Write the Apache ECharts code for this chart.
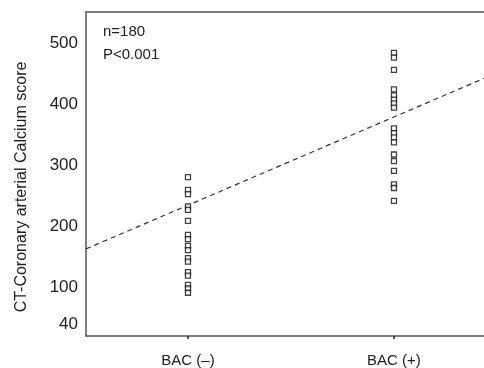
<!DOCTYPE html>
<html>
<head>
<meta charset="utf-8">
<script src="https://cdn.jsdelivr.net/npm/echarts@6/dist/echarts.min.js"></script>
<style>
html, body { margin: 0; padding: 0; background: #fff; }
#chart { width: 484px; height: 368px; }
</style>
</head>
<body>
<div id="chart"></div>
<script>
var groups = ['BAC (–)', 'BAC (+)'];
var yTicks = [40, 100, 200, 300, 400, 500];
// calcium scores
var bacNeg = [281, 260, 253, 233, 227, 209, 186, 179, 168, 161, 148, 142, 125, 119, 104, 98, 91];
var bacPos = [485, 477, 457, 425, 415, 408, 402, 395, 361, 353, 346, 338, 318, 307, 291, 269, 263, 242];
// dashed fit line, ends at the plot edges
var fitX = [0.505, 2.437];
var fitY = [163, 443];

var myChart = echarts.init(document.getElementById('chart'));

var negData = [];
for (var i = 0; i < bacNeg.length; i++) negData.push([1, bacNeg[i]]);
var posData = [];
for (var j = 0; j < bacPos.length; j++) posData.push([2, bacPos[j]]);
var fitData = [];
for (var k = 0; k < fitX.length; k++) fitData.push([fitX[k], fitY[k]]);

var axisColor = '#555';
var textColor = '#222';
var font = 'Liberation Sans, Arial, sans-serif';

var option = {
    animation: false,
    grid: { left: 86, right: 0, top: 12, bottom: 30 },
    xAxis: [
        {
            type: 'value',
            min: fitX[0],
            max: fitX[1],
            axisLine: { show: true, lineStyle: { color: axisColor, width: 1.5 } },
            axisTick: { show: true, length: 3, customValues: [1, 2], lineStyle: { color: '#222', width: 1.5 } },
            splitLine: { show: false },
            axisLabel: {
                customValues: [1, 2],
                margin: 17,
                color: textColor,
                fontSize: 15,
                fontFamily: font,
                formatter: function (v) { return groups[Math.round(v) - 1]; }
            }
        },
        {
            type: 'value',
            position: 'top',
            min: fitX[0],
            max: fitX[1],
            axisLine: { show: true, onZero: false, lineStyle: { color: axisColor, width: 1.5 } },
            axisTick: { show: false },
            axisLabel: { show: false },
            splitLine: { show: false }
        }
    ],
    yAxis: {
        type: 'value',
        min: 20,
        max: 552,
        name: 'CT-Coronary arterial Calcium score',
        nameLocation: 'middle',
        nameGap: 56,
        nameTextStyle: { color: textColor, fontSize: 16, fontFamily: font, padding: [0, 26, 0, 0] },
        axisLine: { show: true, lineStyle: { color: axisColor, width: 1.5 } },
        axisTick: { show: false },
        splitLine: { show: false },
        axisLabel: {
            customValues: yTicks,
            margin: 8,
            color: textColor,
            fontSize: 17,
            fontFamily: font
        }
    },
    graphic: [
        { type: 'text', left: 103, top: 24, style: { text: 'n=180', fill: textColor, fontSize: 15, fontFamily: font } },
        { type: 'text', left: 103, top: 47, style: { text: 'P<0.001', fill: textColor, fontSize: 15, fontFamily: font } }
    ],
    series: [
        {
            type: 'line',
            data: fitData,
            symbol: 'none',
            lineStyle: { color: '#333', width: 1.2, type: [5, 4] },
            z: 1
        },
        {
            type: 'scatter',
            data: negData,
            symbol: 'rect',
            symbolSize: 5,
            itemStyle: { color: '#fff', borderColor: '#111', borderWidth: 1.3 },
            z: 2
        },
        {
            type: 'scatter',
            data: posData,
            symbol: 'rect',
            symbolSize: 5,
            itemStyle: { color: '#fff', borderColor: '#111', borderWidth: 1.3 },
            z: 2
        }
    ]
};
myChart.setOption(option);
</script>
</body>
</html>
